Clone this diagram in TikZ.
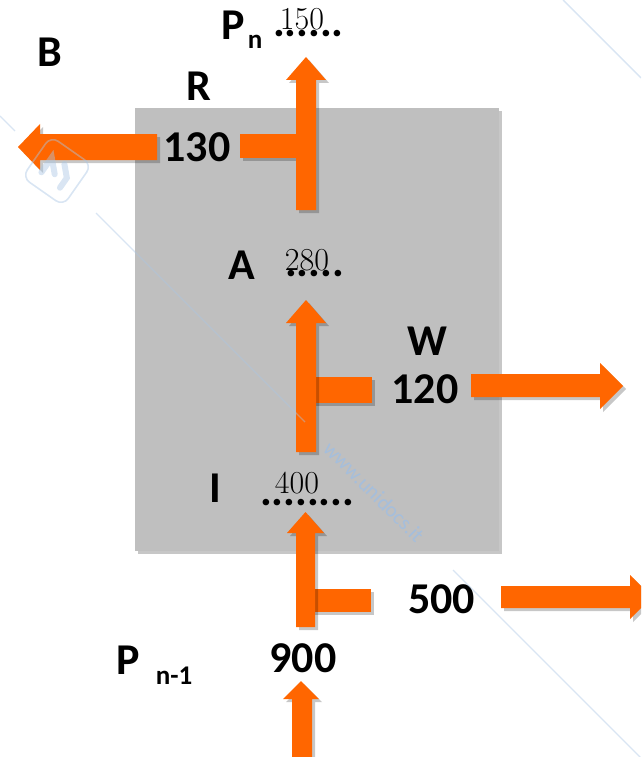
\documentclass[tikz,border=0pt]{standalone}
\usepackage{fontspec}
\setmainfont{Carlito}
\newfontfamily\handfont{Latin Modern Roman}
\usetikzlibrary{shadows}

\definecolor{flow}{RGB}{255,102,0}
\definecolor{panel}{RGB}{191,191,191}
\definecolor{wmblue}{RGB}{170,198,228}
\definecolor{wmtext}{RGB}{165,190,220}

\tikzset{
  lbl/.style={font=\fontsize{44}{44}\selectfont\bfseries, inner sep=0pt},
  sublbl/.style={font=\fontsize{27}{27}\selectfont\bfseries, inner sep=0pt},
  dots/.style={font=\fontsize{44}{44}\selectfont\bfseries, inner sep=0pt, anchor=base west},
  hand/.style={font=\fontsize{32}{32}\selectfont\handfont, inner sep=0pt},
  flowshape/.style={fill=flow, draw=none,
    drop shadow={shadow xshift=3pt, shadow yshift=-3pt, opacity=0.22, fill=black}},
  panelshape/.style={fill=panel, draw=none,
    drop shadow={shadow xshift=3pt, shadow yshift=-3pt, opacity=0.22, fill=black}},
  markline/.style={draw=wmblue, line width=1.4pt, opacity=0.45},
}

\begin{document}
\begin{tikzpicture}[x=1pt, y=-1pt]
\useasboundingbox (0,0) rectangle (641,757);
\clip (0,0) rectangle (641,757);

% panel
\path[panelshape] (135,108) rectangle (499,551);

% top: R outflow and P_n arrow
\path[flowshape] (240,134) rectangle (300,158);
\path[flowshape] (157,134) -- (40,134) -- (40,124) -- (18,147) -- (40,170)
  -- (40,160) -- (157,160) -- cycle;
\path[flowshape] (296,210) -- (296,80) -- (286,80) -- (306,57) -- (326,80)
  -- (316,80) -- (316,210) -- cycle;

% middle: W outflow and A arrow
\path[flowshape] (312,377) rectangle (372,403);
\path[flowshape] (296,452) -- (296,323) -- (286,323) -- (306,300) -- (326,323)
  -- (316,323) -- (316,452) -- cycle;
\path[flowshape] (471,374) -- (600,374) -- (600,363) -- (623,386) -- (600,409)
  -- (600,397) -- (471,397) -- cycle;

% bottom: 500 outflow and I arrow
\path[flowshape] (305,589) rectangle (371,612);
\path[flowshape] (296,627) -- (296,533) -- (287,533) -- (305.5,512) -- (324,533)
  -- (315,533) -- (315,627) -- cycle;
\path[flowshape] (501,586) -- (630,586) -- (630,575) -- (652,597) -- (630,619)
  -- (630,608) -- (501,608) -- cycle;

% inflow P_{n-1}
\path[flowshape] (292,760) -- (292,699) -- (283,699) -- (301,681) -- (319,699)
  -- (312,699) -- (312,760) -- cycle;

% labels
\node[lbl] (B) at (49.5,52) {B};
\node[lbl] (R) at (198.5,86) {R};
\node[lbl] (Pn) at (233.5,25) {P};
\node[sublbl] (Pnsub) at (255,42) {n};
\node[dots] (Pndots) at (273,36.5) {......};
\node[hand] (v150) at (302,19) {150};

\node[lbl] (v130) at (197,147.5) {130};

\node[lbl] (A) at (241.5,265) {A};
\node[dots] (Adots) at (285,276.5) {.....};
\node[hand] (v280) at (307,260) {280};

\node[lbl] (W) at (427,341.5) {W};
\node[lbl] (v120) at (425,389.5) {120};

\node[lbl] (I) at (215.5,488) {I};
\node[dots] (Idots) at (260,505.5) {........};
\node[hand] (v400) at (297,483) {400};

\node[lbl] (v500) at (441.5,599) {500};
\node[lbl] (v900) at (303,658) {900};
\node[lbl] (Pn1) at (128,660) {P};
\node[sublbl] (Pn1sub) at (174,676) {n-1};

% watermark
\draw[markline] (0,116) -- (15,131);
\draw[markline] (96,213) -- (305,422);
\draw[markline] (453,570) -- (641,758);
\draw[markline] (563,0) -- (641,78);
\node[font=\fontsize{21}{21}\selectfont, text=wmtext, rotate=-45,
  inner sep=0pt] (wm) at (374,492) {www.unidocs.it};
\begin{scope}[shift={(57,171)}, rotate=-35, opacity=0.45]
  \draw[wmblue, line width=1.6pt, rounded corners=9pt] (-25,-25) rectangle (25,25);
  \draw[wmblue, line width=6pt, line cap=round] (-12,10) -- (-12,-8) -- (0,4);
  \draw[wmblue, line width=6pt, line cap=round] (2,-10) -- (12,0) -- (12,12);
\end{scope}
\end{tikzpicture}
\end{document}
